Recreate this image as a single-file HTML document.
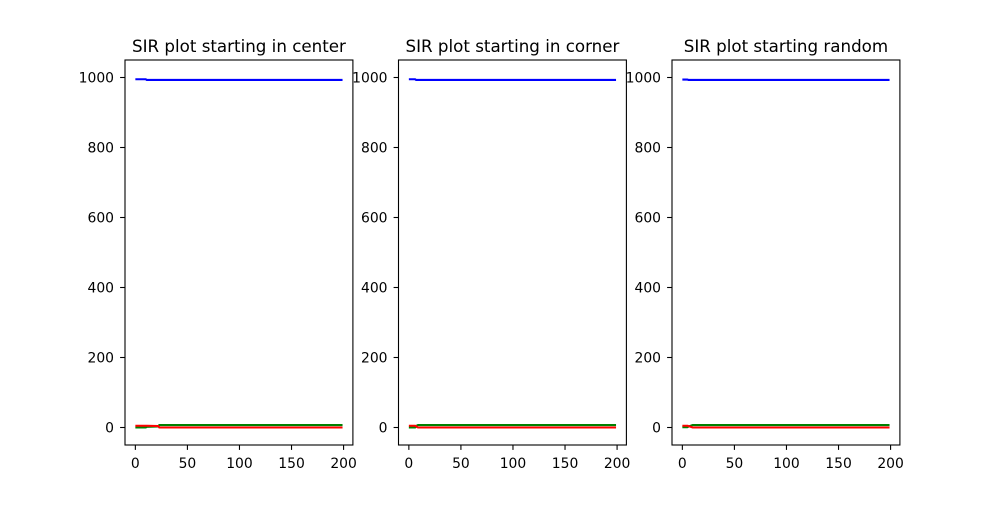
<!DOCTYPE html>
<html><head><meta charset="utf-8"><style>
body{margin:0;background:#fff;font-family:"Liberation Sans","DejaVu Sans",sans-serif}
svg text{font-family:"DejaVu Sans","Liberation Sans",sans-serif}
</style></head><body>
<svg id="fig" width="1000" height="500"></svg>
<script>
const titles=["SIR plot starting in center","SIR plot starting in corner","SIR plot starting random"];
const xTicks=[0,50,100,150,200];
const yTicks=[0,200,400,600,800,1000];
const times=[[0,10,11,22,23,199],[0,6,7,8,9,199],[0,5,6,9,10,199]];
const susceptible=[[995,995,993,993,993,993],[995,995,993,993,993,993],[994,994,993,993,993,993]];
const infected=[[5,5,5,4,0,0],[5,5,4,1,0,0],[5,5,4,1,0,0]];
const recovered=[[0,0,2,3,7,7],[0,0,3,6,7,7],[1,1,3,6,7,7]];
const NS="http://www.w3.org/2000/svg";
const svg=document.getElementById('fig');
function mk(t,a,p){const e=document.createElementNS(NS,t);for(const k in a)e.setAttribute(k,a[k]);(p||svg).appendChild(e);return e;}
const axW=227.9,axH=385,topY=60,lefts=[125,398.5,672];
const xmin=-9.95,xmax=208.95,ymin=-50,ymax=1050;
titles.forEach((title,i)=>{
  const L=lefts[i];
  const g=mk('g',{});
  
  
  const X=v=>L+(v-xmin)/(xmax-xmin)*axW;
  const Y=v=>topY+axH-(v-ymin)/(ymax-ymin)*axH;
  const series=[[susceptible[i],'#0000ff','susceptible-line'],[recovered[i],'#008000','recovered-line'],[infected[i],'#ff0000','infected-line']];
  series.forEach(([vals,col,nm])=>{
    const pts=times[i].map((t,j)=>X(t).toFixed(2)+','+Y(vals[j]).toFixed(2)).join(' ');
    const pl=mk('polyline',{points:pts,fill:'none',stroke:col,'stroke-width':2.1,'stroke-linejoin':'round'},g);
    
    
  });
  const fr=mk('rect',{x:L,y:topY,width:axW,height:axH,fill:'none',stroke:'#000','stroke-width':1.1},g);
  
  
  xTicks.forEach(v=>{
    mk('line',{x1:X(v),x2:X(v),y1:topY+axH,y2:topY+axH+4.9,stroke:'#000','stroke-width':1.1},g);
    const t=mk('text',{x:X(v),y:topY+axH+23,'text-anchor':'middle','font-size':13.9},g);
    t.textContent=v;
    
    
  });
  yTicks.forEach(v=>{
    mk('line',{x1:L,x2:L-4.9,y1:Y(v),y2:Y(v),stroke:'#000','stroke-width':1.1},g);
    const t=mk('text',{x:L-11,y:Y(v)+5,'text-anchor':'end','font-size':13.9},g);
    t.textContent=v;
    
    
  });
  const tt=mk('text',{x:L+axW/2,y:topY-8,'text-anchor':'middle','font-size':16.7},g);
  tt.textContent=title;
  
  
});
</script>
</body></html>
